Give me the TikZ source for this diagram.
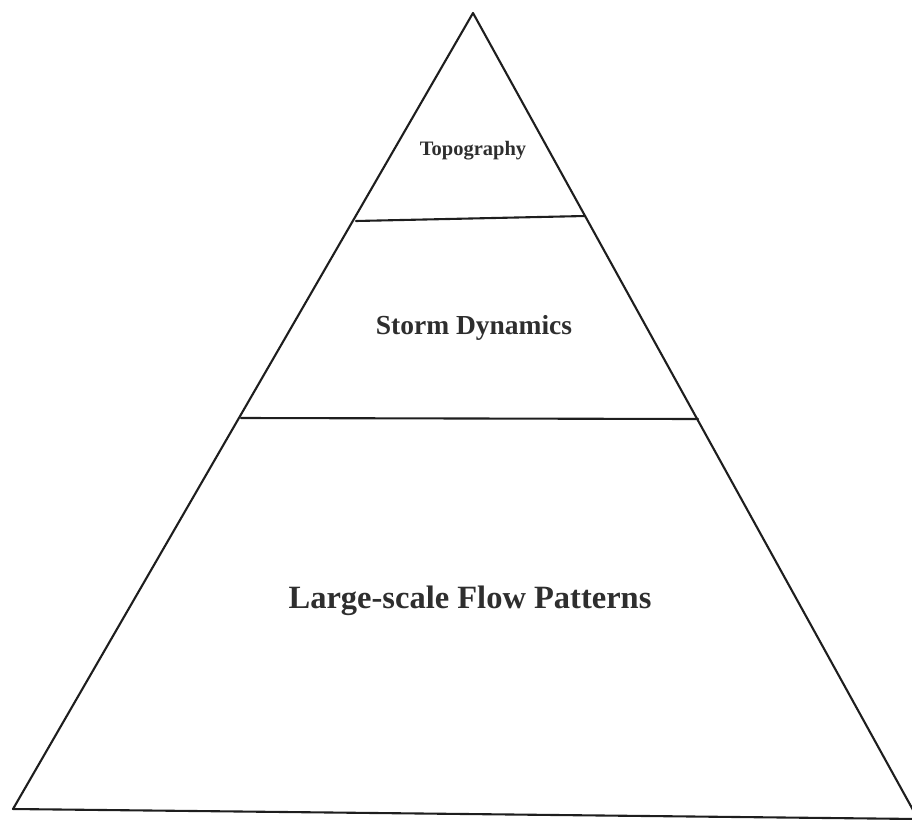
\documentclass[tikz,border=0pt]{standalone}
\usepackage{fontspec}
\setmainfont{Liberation Serif}
\definecolor{ink}{HTML}{1E1E1E}
\definecolor{txt}{HTML}{2E2E2E}
\begin{document}
\begin{tikzpicture}[x=1pt,y=-1pt,
  edge/.style={draw=ink,line width=2.1pt,line cap=round,line join=round},
  label/.style={text=txt,font=\bfseries,anchor=base,inner sep=0pt}]
\useasboundingbox (0,0) rectangle (912,819);
\clip (0,0) rectangle (912,819);
\coordinate (apex) at (473,13);
\coordinate (bl) at (13,809);
\coordinate (br) at (918,819);
\coordinate (l1a) at (356,221);
\coordinate (l1b) at (585,216);
\coordinate (l2a) at (241,418);
\coordinate (l2b) at (698,419);
\draw[edge] (bl) -- (apex) -- (br);
\draw[edge] (bl) -- (br);
\draw[edge] (l1a) -- (l1b);
\draw[edge] (l2a) -- (l2b);
\node[label,font=\bfseries\fontsize{20.5pt}{24pt}\selectfont] (topo) at (473,155) {Topography};
\node[label,font=\bfseries\fontsize{27.5pt}{32pt}\selectfont] (storm) at (474,334) {Storm Dynamics};
\node[label,font=\bfseries\fontsize{32.5pt}{38pt}\selectfont] (flow) at (470,608) {Large-scale Flow Patterns};
\end{tikzpicture}
\end{document}
